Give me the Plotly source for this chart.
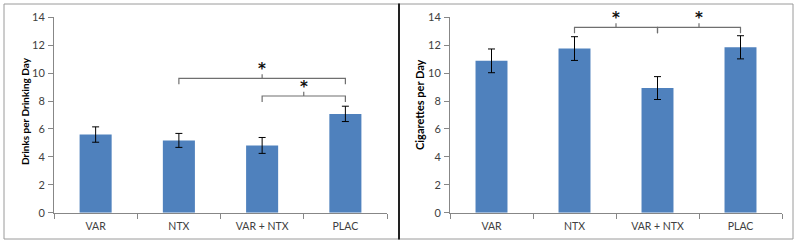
import plotly.graph_objects as go

categories = ["VAR", "NTX", "VAR + NTX", "PLAC"]
drinks = [5.6, 5.18, 4.82, 7.08]
drinks_err = [0.55, 0.5, 0.57, 0.55]
cigs = [10.88, 11.76, 8.93, 11.85]
cigs_err = [0.85, 0.85, 0.82, 0.83]
yticks = [0, 2, 4, 6, 8, 10, 12, 14]
# significance braces: (from index, to index, level)
drinks_sig = [(1, 3, 9.62), (2, 3, 8.36)]
cigs_sig = [(1, 2, 13.28), (2, 3, 13.28)]

W, H = 800, 246
BAR = "#4F81BD"
AXC = "#878787"
TXT = "#404040"
FONT = "Lato"

def px(x):
    return x / W

def py(y):
    return 1 - y / H

fig = go.Figure()
for i, (vals, errs) in enumerate([(drinks, drinks_err), (cigs, cigs_err)]):
    fig.add_trace(go.Bar(
        x=categories, y=vals,
        error_y=dict(type="data", array=errs, color="black", thickness=1, width=3.5),
        marker=dict(color=BAR, line=dict(width=0)),
        xaxis="x" if i == 0 else "x2", yaxis="y" if i == 0 else "y2",
        showlegend=False, hoverinfo="skip",
    ))

ydom = [py(212.7), py(17.3)]
axis_common = dict(showgrid=False, zeroline=False, showline=True, linecolor=AXC, linewidth=1,
                   ticks="outside", tickcolor=AXC, ticklen=5)
xfont = dict(family=FONT, size=10.5, color=TXT)
yfont = dict(family=FONT, size=11, color=TXT)
fig.update_layout(
    width=W, height=H, margin=dict(l=0, r=0, t=0, b=0, autoexpand=False),
    paper_bgcolor="white", plot_bgcolor="white", bargap=0.615,
    xaxis=dict(domain=[px(54), px(387)], range=[-0.5, 3.5], tickson="boundaries",
               anchor="y", tickfont=xfont, ticklabelstandoff=4, **axis_common),
    yaxis=dict(domain=ydom, range=[0, 14], tickvals=yticks, anchor="x", tickfont=yfont,
               ticklabelstandoff=1, **axis_common),
    xaxis2=dict(domain=[px(450), px(782)], range=[-0.5, 3.5], tickson="boundaries",
                anchor="y2", tickfont=xfont, ticklabelstandoff=4, **axis_common),
    yaxis2=dict(domain=ydom, range=[0, 14], tickvals=yticks, anchor="x2", tickfont=yfont,
                ticklabelstandoff=1, **axis_common),
)

shapes = []
annotations = []
drop, rise = 0.42, 0.3
for sigs, xr, yr in [(drinks_sig, "x", "y"), (cigs_sig, "x2", "y2")]:
    for a, b, lvl in sigs:
        m = (a + b) / 2
        path = (f"M {a} {lvl - drop} L {a} {lvl} L {b} {lvl} L {b} {lvl - drop} "
                f"M {m} {lvl} L {m} {lvl + rise}")
        shapes.append(dict(type="path", path=path, xref=xr, yref=yr,
                           line=dict(color="#6f6f6f", width=1.2)))
        annotations.append(dict(x=m, y=lvl + rise, xref=xr, yref=yr, text="<b>*</b>",
                                showarrow=False, xanchor="center", yanchor="bottom", yshift=-6,
                                font=dict(family="DejaVu Sans", size=15, color="#111111")))

# panel borders
for x0, x1 in [(4, 399), (399, 793)]:
    shapes.append(dict(type="rect", xref="paper", yref="paper", x0=px(x0), x1=px(x1),
                       y0=py(239), y1=py(4), line=dict(color="#9a9a9a", width=1)))
shapes.append(dict(type="line", xref="paper", yref="paper", x0=px(399), x1=px(399),
                   y0=py(239.5), y1=py(3.5), line=dict(color="#222222", width=2)))

annotations.append(dict(x=px(25), y=py(111), xref="paper", yref="paper",
                        xanchor="center", yanchor="middle",
                        text="<b>Drinks per Drinking Day</b>", textangle=-90, showarrow=False,
                        font=dict(family=FONT, size=10, color="black")))
annotations.append(dict(x=px(420), y=py(105), xref="paper", yref="paper",
                        xanchor="center", yanchor="middle",
                        text="<b>Cigarettes per Day</b>", textangle=-90, showarrow=False,
                        font=dict(family=FONT, size=11, color="black")))

fig.update_layout(shapes=shapes, annotations=annotations)
fig.write_html("out.html", config={"displayModeBar": False},
               post_script="document.body.style.margin='0';")
